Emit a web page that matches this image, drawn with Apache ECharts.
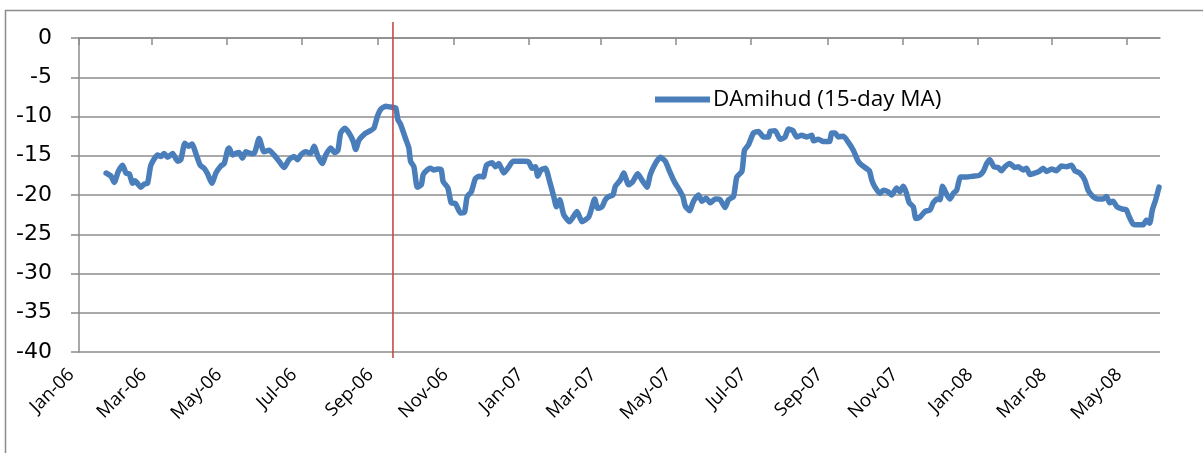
<!DOCTYPE html>
<html>
<head>
<meta charset="utf-8">
<script src="https://cdn.jsdelivr.net/npm/echarts@6/dist/echarts.min.js"></script>
<style>
html,body{margin:0;padding:0;background:#fff;}
#chart{width:1203px;height:453px;}
</style>
</head>
<body>
<div id="chart"></div>
<script>
// Days since 2006-01-01 for each reading
const days = [22,26,28.6,31.9,35.4,38.1,40.8,43.6,45.4,50.3,53,55.7,58.4,63.8,66.5,69.2,72,76,80.1,82.7,86,88.7,91.7,94.9,98.4,101.6,104.4,107.9,111.2,115.2,117.9,120.6,121.9,124.7,127.4,130,132.8,135.5,139.5,142.2,146.3,150.3,154.4,158.4,162.5,166.5,170.6,174.7,177.4,180.1,184.1,188.2,190.9,194.1,197.7,200.4,204.4,207.7,210.3,212.5,215.8,219.3,222.8,224.7,227.4,231.4,235.5,239.5,242.3,245,249,253.1,257.2,259,261.2,
265.2,267.9,
269.3,272,274.8,278,279.6,282.9,285.5,288.2,291.5,294.2,295.8,299.6,302.3,305.8,309.9,313.1,315.3,318.6,322,325.3,328.3,331,335.6,338.3,341,345,348.3,352.6,357.2,361.2,365.3,368,370.7,372.6,375.3,378.8,382.3,385.6,387.8,390.4,393.7,398.5,401.8,404.5,408.6,414,416.7,418.8,421.3,424.8,427.5,430.2,433.7,435.6,439.7,442.4,446.4,449.7,453.7,457.3,461.3,464,468.1,472.1,476.2,479.7,483.5,487.8,490.5,492.4,495.9,499.1,503.2,505.9,509.4,512.7,516.7,520.8,524.8,527.5,531.6,534.3,538.4,540.5,543.8,547.8,551.9,555.9,560,
561.3,565.4,569.5,573.5,576.2,579.8,583,587,591.1,595.2,596.5,600.5,604.6,609.5,611.4,614.1,616.8,620.8,624.9,628.9,632.2,634.4,638.4,641.9,643.9,646.5,650.6,653.3,657.3,660.1,664.1,666.8,669.5,671.7,674.4,677.6,679.8,683.1,687.1,691.2,693.8,697.1,699.3,701.4,704.7,707.4,710.1,712.8,716.1,720.9,726.3,731.2,734.4,737.2,739.8,743.1,746.5,749.3,752,756,760.1,762.8,766.8,769.6,772.3,776.3,779.8,783.1,785.8,789.9,793.9,798,802,806.1,808.8,812.8,816.9,819.6,823.6,827.7,831.7,834.5,837.2,839.8,843.1,847.5,850.7,852.8,856.1,860.2,864.2,867,869.6,871.8,874.5,877.2];

// DAmihud (15-day MA)
const damihud = [-17.2,-17.6,-18.4,-17.0,-16.2,-17.2,-17.3,-18.5,-18.2,-19.0,-18.6,-18.5,-16.2,-14.9,-15.1,-14.7,-15.2,-14.7,-15.7,-15.5,-13.4,-13.8,-13.5,-14.7,-16.2,-16.6,-17.3,-18.5,-17.2,-16.3,-16.0,-14.3,-14.0,-14.9,-14.7,-14.6,-15.3,-14.5,-14.7,-14.7,-12.8,-14.5,-14.3,-14.9,-15.7,-16.5,-15.5,-15.1,-15.5,-14.9,-14.5,-14.7,-13.8,-15.1,-16.0,-14.9,-14.0,-14.6,-14.3,-12.1,-11.5,-12.1,-13.2,-14.2,-13.0,-12.3,-11.9,-11.5,-10.0,-9.1,-8.7,-8.8,-8.9,-10.4,-11.0,
-12.8,-14.0,
-15.7,-16.4,-19.0,-18.7,-17.4,-16.8,-16.6,-16.8,-16.7,-16.8,-18.3,-19.1,-21.0,-21.1,-22.3,-22.2,-20.2,-19.6,-17.9,-17.6,-17.7,-16.2,-15.9,-16.4,-16.0,-17.2,-16.6,-15.7,-15.7,-15.7,-15.8,-16.6,-16.4,-17.6,-16.8,-16.6,-18.3,-20.2,-21.5,-20.6,-22.5,-23.4,-22.7,-22.1,-23.4,-22.8,-21.5,-20.5,-21.7,-21.5,-20.6,-20.2,-20.0,-18.9,-18.1,-17.2,-18.7,-18.3,-17.3,-18.1,-19.0,-17.4,-16.0,-15.2,-15.7,-17.0,-18.3,-19.4,-20.2,-21.4,-22.0,-20.8,-20.0,-20.8,-20.4,-21.0,-20.5,-20.6,-21.6,-20.6,-20.2,-17.7,-17.0,-14.3,-13.6,-12.1,-11.9,-12.6,-12.6,
-11.9,-11.8,-12.9,-12.6,-11.6,-11.8,-12.6,-12.4,-12.6,-12.4,-13.1,-12.9,-13.2,-13.2,-12.1,-12.1,-12.6,-12.5,-13.3,-14.3,-15.5,-16.0,-16.5,-16.9,-18.1,-19.0,-19.8,-19.4,-19.6,-20.0,-19.1,-19.6,-18.9,-19.6,-21.0,-21.5,-23.0,-22.8,-22.1,-21.9,-21.0,-20.5,-20.6,-18.9,-19.9,-20.5,-19.8,-19.4,-17.7,-17.7,-17.6,-17.5,-17.0,-16.0,-15.5,-16.4,-16.5,-16.9,-16.4,-16.0,-16.5,-16.4,-16.8,-16.6,-17.4,-17.2,-17.0,-16.6,-17.0,-16.7,-16.9,-16.3,-16.4,-16.2,-16.9,-17.2,-18.1,-19.4,-20.2,-20.5,-20.5,-20.2,-21.0,-20.8,-21.5,-21.8,-21.9,-22.7,-23.7,-23.8,-23.8,-23.2,-23.6,-21.9,-20.6,-19.0];

const tickDates = ['2006-01-01','2006-03-01','2006-05-01','2006-07-01','2006-09-01','2006-11-01','2007-01-01','2007-03-01','2007-05-01','2007-07-01','2007-09-01','2007-11-01','2008-01-01','2008-03-01','2008-05-01'];
const tickLabels = ['Jan-06','Mar-06','May-06','Jul-06','Sep-06','Nov-06','Jan-07','Mar-07','May-07','Jul-07','Sep-07','Nov-07','Jan-08','Mar-08','May-08'];
const axisStart = '2006-01-01';
const axisEnd = '2008-05-28';
const eventDate = '2006-09-13';
const seriesName = 'DAmihud (15-day MA)';

function ts(s){ const p = s.split('-').map(Number); return Date.UTC(p[0], p[1]-1, p[2]); }
const DAY = 86400000;
const t0 = ts(axisStart);
const lineData = days.map((d,i)=>[t0 + d*DAY, damihud[i]]);
const tickTs = tickDates.map(ts);
const labelOf = {};
tickTs.forEach((t,i)=>{ labelOf[t] = tickLabels[i]; });

const GRID = '#8c8c8c';
const BLUE = '#4a7ebb';
const chart = echarts.init(document.getElementById('chart'), null, {renderer:'canvas'});
const xCommon = {
  type:'value', min: ts(axisStart), max: ts(axisEnd), scale:true,
  splitLine:{show:false}
};
chart.setOption({
  animation:false,
  backgroundColor:'#fff',
  grid:{left:79, right:43, top:38, bottom:101, containLabel:false},
  legend:{
    show:true, left:650, top:83, itemWidth:55, itemHeight:6, itemGap:0,
    textStyle:{fontFamily:'Open Sans', fontSize:22.5, color:'#000', padding:[0,0,0,-2]},
    data:[{name:seriesName, icon:'rect', itemStyle:{color:BLUE}}]
  },
  xAxis:[
    Object.assign({}, xCommon, {
      position:'top',
      axisLine:{show:true, lineStyle:{color:GRID, width:1.5}},
      axisTick:{show:true, inside:true, length:7, lineStyle:{color:GRID, width:1.5}, customValues: tickTs},
      axisLabel:{show:false, customValues: tickTs}
    }),
    Object.assign({}, xCommon, {
      position:'bottom',
      axisLine:{show:false},
      axisTick:{show:false, customValues: tickTs},
      axisLabel:{show:true, customValues: tickTs, rotate:45, margin:12, padding:[0,11,0,0],
        fontFamily:'Open Sans', fontSize:18.5, color:'#000',
        formatter:(v)=> labelOf[v] || ''}
    })
  ],
  yAxis:{
    type:'value', min:-40, max:0, interval:5,
    axisLine:{show:true, lineStyle:{color:GRID, width:1.5}},
    axisTick:{show:true, length:8, lineStyle:{color:GRID, width:1.5}},
    axisLabel:{fontFamily:'DejaVu Sans', fontSize:22, color:'#000', margin:27},
    splitLine:{show:true, lineStyle:{color:GRID, width:1.5}}
  },
  series:[{
    name: seriesName,
    type:'line', xAxisIndex:0, yAxisIndex:0,
    data: lineData,
    showSymbol:false, symbol:'none',
    smooth:0.2,
    lineStyle:{color:BLUE, width:5.5, join:'round', cap:'round'},
    itemStyle:{color:BLUE},
    z:3
  }]
});

// event marker: vertical red line positioned through the axis scale
const ex = chart.convertToPixel({xAxisIndex:0}, ts(eventDate));
const yTop = chart.convertToPixel({yAxisIndex:0}, 0);
const yBot = chart.convertToPixel({yAxisIndex:0}, -40);
chart.setOption({
  graphic:[{
    type:'rect', silent:true, z:-1,
    shape:{x:5.5, y:10.5, width:1400, height:600},
    style:{fill:null, stroke:'#8c8c8c', lineWidth:1.5}
  },{
    type:'line', silent:true, z:4,
    shape:{x1:ex, y1:yTop-16, x2:ex, y2:yBot+6},
    style:{stroke:'#c8494a', lineWidth:1.6}
  }]
});
</script>
</body>
</html>
